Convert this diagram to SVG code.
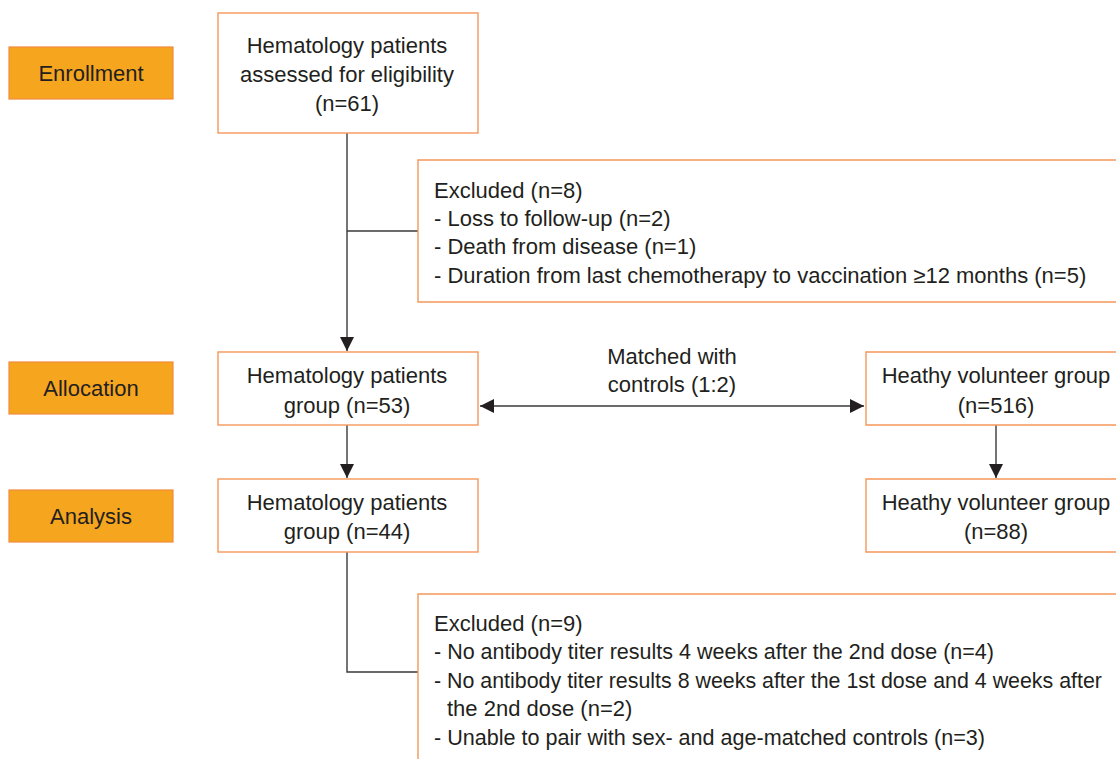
<svg xmlns="http://www.w3.org/2000/svg" width="1116" height="759" viewBox="0 0 1116 759">
<defs>
<style>
.stage{fill:#F6A51F;stroke:#F28A3C;stroke-width:1.2}
.box{fill:#fff;stroke:#F4975A;stroke-width:1.4}
.open{fill:none;stroke:#F4975A;stroke-width:1.4}
.t{font-family:"Liberation Sans",Arial,sans-serif;font-size:22px;fill:#231F20}
.c{text-anchor:middle}
.ln{fill:none;stroke:#3a3a3a;stroke-width:1.4}
</style>
<marker id="ah" viewBox="0 0 10 10" refX="10" refY="5" markerWidth="14" markerHeight="14" markerUnits="userSpaceOnUse" orient="auto-start-reverse">
<path d="M0,0 L10,5 L0,10 z" fill="#231F20"/>
</marker>
</defs>
<rect width="1116" height="759" fill="#fff"/>
<g id="enrollment"><rect class="stage" x="9" y="47" width="164" height="52"/><text class="t c" x="91" y="81">Enrollment</text></g>
<g id="allocation"><rect class="stage" x="9" y="362" width="164" height="52"/><text class="t c" x="91" y="396">Allocation</text></g>
<g id="analysis"><rect class="stage" x="9" y="490" width="164" height="52"/><text class="t c" x="91" y="524">Analysis</text></g>

<g id="connectors">
<path class="ln" d="M347,133 V351" marker-end="url(#ah)"/>
<path class="ln" d="M347,231 H418"/>
<path class="ln" d="M480,406 H864" marker-start="url(#ah)" marker-end="url(#ah)"/>
<path class="ln" d="M347,425 V478" marker-end="url(#ah)"/>
<path class="ln" d="M996,425 V478" marker-end="url(#ah)"/>
<path class="ln" d="M347,552 V672 H418"/>
</g>

<g id="assessed"><rect class="box" x="218" y="13" width="260" height="120"/>
<text class="t c" x="347" y="53">Hematology patients</text>
<text class="t c" x="347" y="82">assessed for eligibility</text>
<text class="t c" x="347" y="111">(n=61)</text></g>

<g id="excluded1"><path class="open" d="M1116,160 H418 V302 H1116"/>
<text class="t" x="434" y="198">Excluded (n=8)</text>
<text class="t" x="434" y="226">- Loss to follow-up (n=2)</text>
<text class="t" x="434" y="254">- Death from disease (n=1)</text>
<text class="t" x="434" y="283">- Duration from last chemotherapy to vaccination ≥12 months (n=5)</text></g>

<g id="hem53"><rect class="box" x="218" y="352" width="260" height="73"/>
<text class="t c" x="347" y="383">Hematology patients</text>
<text class="t c" x="347" y="413">group (n=53)</text></g>

<g id="matched"><text class="t c" x="672" y="364">Matched with</text>
<text class="t c" x="672" y="392">controls (1:2)</text></g>

<g id="heathy516"><path class="open" d="M1116,352 H866 V425 H1116"/>
<text class="t c" x="996" y="383">Heathy volunteer group</text>
<text class="t c" x="996" y="413">(n=516)</text></g>

<g id="hem44"><rect class="box" x="218" y="479" width="260" height="73"/>
<text class="t c" x="347" y="510">Hematology patients</text>
<text class="t c" x="347" y="539">group (n=44)</text></g>

<g id="heathy88"><path class="open" d="M1116,479 H866 V552 H1116"/>
<text class="t c" x="996" y="510">Heathy volunteer group</text>
<text class="t c" x="996" y="539">(n=88)</text></g>

<g id="excluded2"><path class="open" d="M1116,594 H418 V759"/>
<text class="t" x="434" y="631">Excluded (n=9)</text>
<text class="t" x="434" y="659" textLength="560" lengthAdjust="spacingAndGlyphs">- No antibody titer results 4 weeks after the 2nd dose (n=4)</text>
<text class="t" x="434" y="688" style="font-size:21.2px" textLength="668" lengthAdjust="spacingAndGlyphs">- No antibody titer results 8 weeks after the 1st dose and 4 weeks after</text>
<text class="t" x="447" y="716">the 2nd dose (n=2)</text>
<text class="t" x="434" y="745" textLength="551" lengthAdjust="spacingAndGlyphs">- Unable to pair with sex- and age-matched controls (n=3)</text></g>
</svg>
